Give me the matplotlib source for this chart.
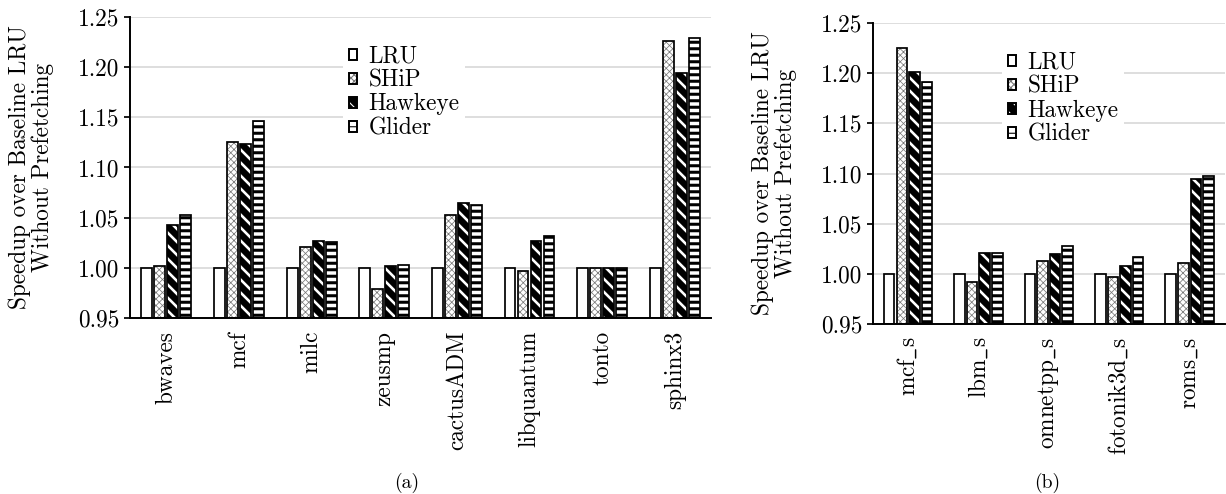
import matplotlib
matplotlib.use("Agg")
import matplotlib.pyplot as plt
from matplotlib.patches import Patch
from matplotlib.legend_handler import HandlerTuple
from matplotlib.ticker import FormatStrFormatter
import numpy as np

plt.rcParams["font.family"] = ["cmr10", "DejaVu Serif"]
plt.rcParams["mathtext.fontset"] = "cm"
plt.rcParams["axes.unicode_minus"] = False
plt.rcParams["axes.formatter.use_mathtext"] = True

DPI = 78
FS = 21.5

policies = ["LRU", "SHiP", "Hawkeye", "Glider"]

bench_a = ["bwaves", "mcf", "milc", "zeusmp", "cactusADM", "libquantum", "tonto", "sphinx3"]
lru_a = [1.000, 1.000, 1.000, 1.000, 1.000, 1.000, 1.000, 1.000]
ship_a = [1.002, 1.125, 1.021, 0.979, 1.053, 0.997, 1.000, 1.226]
hawkeye_a = [1.043, 1.123, 1.027, 1.002, 1.065, 1.027, 1.000, 1.194]
glider_a = [1.053, 1.146, 1.026, 1.003, 1.063, 1.032, 1.000, 1.229]

bench_b = ["mcf_s", "lbm_s", "omnetpp_s", "fotonik3d_s", "roms_s"]
lru_b = [1.000, 1.000, 1.000, 1.000, 1.000]
ship_b = [1.225, 0.992, 1.013, 0.997, 1.011]
hawkeye_b = [1.201, 1.021, 1.020, 1.008, 1.095]
glider_b = [1.191, 1.021, 1.028, 1.017, 1.098]

# (face colour, hatch, hatch colour, hatch linewidth)
styles = [
    ("white", "", "black", 1.0),
    ("white", "xxxx", "#7a7a7a", 0.7),
    ("black", "\\\\", "white", 2.4),
    ("white", "--", "black", 2.8),
]

PITCH = 0.179
WIDTH = 0.15


def tex_label(name):
    # cmr10 has no underscore glyph, so go through mathtext
    if "_" in name:
        return r"$\mathrm{" + name.replace("_", r"\_") + "}$"
    return name


def draw_panel(ax, names, series):
    x = np.arange(len(names))
    for i, values in enumerate(series):
        face, hatch, hcolor, hlw = styles[i]
        pos = x + (i - 1.5) * PITCH
        heights = np.array(values) - 0.95
        bars = ax.bar(pos, heights, WIDTH, bottom=0.95, color=face,
                      edgecolor=hcolor, hatch=hatch, linewidth=0, zorder=2)
        for b in bars:
            b.set_hatch_linewidth(hlw)
        ax.bar(pos, heights, WIDTH, bottom=0.95, fill=False,
               edgecolor="black", linewidth=1.6, zorder=3)

    ax.set_xlim(-0.5, len(names) - 0.5)
    ax.set_ylim(0.95, 1.25)
    ax.set_yticks(np.arange(0.95, 1.2501, 0.05))
    ax.yaxis.set_major_formatter(FormatStrFormatter("%.2f"))
    ax.set_xticks(x)
    ax.set_xticklabels([tex_label(n) for n in names], rotation=90, fontsize=FS)
    ax.tick_params(axis="x", length=0, pad=12)
    ax.tick_params(axis="y", labelsize=FS, length=6, width=1.6, pad=4)
    ax.grid(True, axis="y", color="#d9d9d9", linewidth=1.6, zorder=0)
    ax.set_axisbelow(True)
    for side in ("top", "right"):
        ax.spines[side].set_visible(False)
    ax.spines["left"].set_linewidth(1.8)
    ax.spines["bottom"].set_linewidth(1.8)
    ax.set_ylabel("Speedup over Baseline LRU\nWithout Prefetching", fontsize=FS,
                  labelpad=22, linespacing=1.0)

    handles = []
    for face, hatch, hcolor, hlw in styles:
        fill = Patch(facecolor=face, edgecolor=hcolor, hatch=hatch, linewidth=0)
        fill.set_hatch_linewidth(hlw)
        outline = Patch(fill=False, edgecolor="black", linewidth=1.8)
        handles.append((fill, outline))
    leg = ax.legend(handles, policies, handler_map={tuple: HandlerTuple(ndivide=1)},
                    loc="upper left", bbox_to_anchor=(0.367, 0.925), frameon=True,
                    fontsize=FS, handlelength=0.34, handleheight=0.34,
                    handletextpad=0.5, labelspacing=0.08, borderpad=0.25,
                    borderaxespad=0.0)
    leg.get_frame().set_edgecolor("none")
    leg.get_frame().set_facecolor("white")
    leg.get_frame().set_alpha(1.0)
    leg.set_zorder(5)


fig = plt.figure(figsize=(1226 / DPI, 494 / DPI), dpi=DPI)
ax_a = fig.add_axes([0.106, 0.3563, 0.474, 0.6093])
ax_b = fig.add_axes([0.712, 0.3441, 0.287, 0.6093])

draw_panel(ax_a, bench_a, [lru_a, ship_a, hawkeye_a, glider_a])
draw_panel(ax_b, bench_b, [lru_b, ship_b, hawkeye_b, glider_b])

fig.text(407 / 1226, 1 - 483 / 494, "(a)", ha="center", va="center", fontsize=FS * 0.85)
fig.text(1047 / 1226, 1 - 483 / 494, "(b)", ha="center", va="center", fontsize=FS * 0.85)

fig.savefig("out.png", dpi=DPI)
